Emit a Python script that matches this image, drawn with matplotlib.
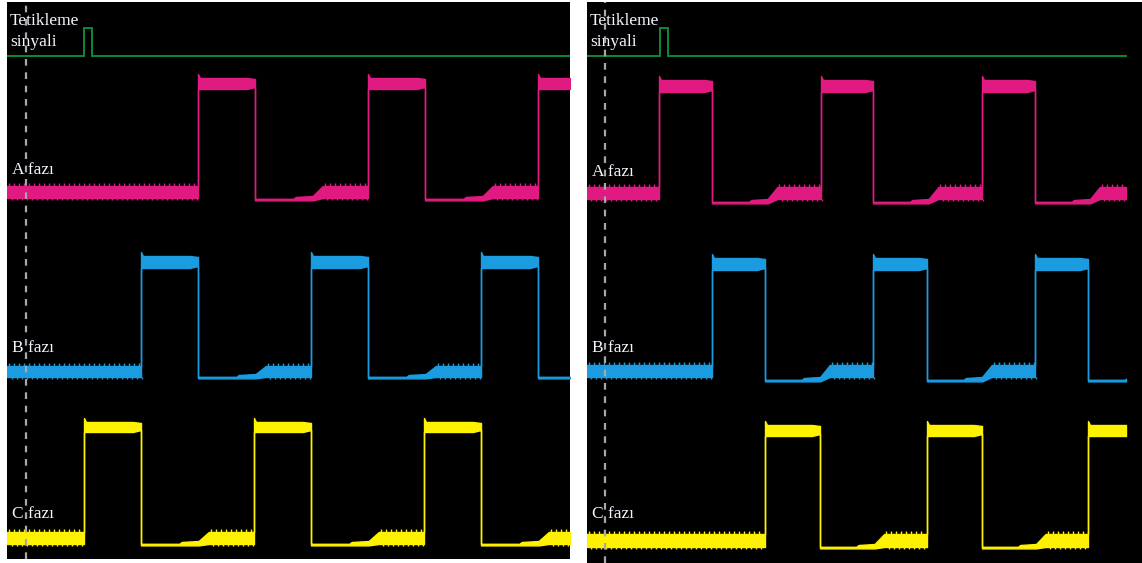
import matplotlib
matplotlib.use("Agg")
import matplotlib.pyplot as plt
import numpy as np

FIG_W, FIG_H = 1142, 563

phase_labels = ["A fazı", "B fazı", "C fazı"]
phase_colors = ["#E01A80", "#1B9BE0", "#FFF200"]
trigger_color = "#0A8A3C"
trigger_label = ["Tetikleme", "sinyali"]
cursor_color = "#A8A8A8"
text_color = "#F2F4FF"

# ---- capture 1 (left screen), screen units ----
cap1_box = (7, 2, 563, 557)            # left, top, width, height (figure px)
cap1_end = 563
cap1_cursor = 19
cap1_trigger = [77, 85]                # pulse start / end
cap1_rise = [[191, 361, 531], [134, 304, 474], [77, 247, 417]]
cap1_fall = [[248, 418], [191, 361, 531], [134, 304, 474]]
cap1_high = [(76, 87), (254, 266), (420, 430)]
cap1_band = [(184, 196), (364, 375), (530, 542)]
cap1_low = [198, 376, 543]
cap1_label_y = [172, 350, 516]

# ---- capture 2 (right screen), screen units ----
cap2_box = (587, 2, 555, 561)
cap2_end = 539
cap2_cursor = 18
cap2_trigger = [73, 81]
cap2_rise = [[72, 234, 395], [125, 286, 448], [178, 340, 501]]
cap2_fall = [[125, 286, 448], [178, 340, 501], [233, 395]]
cap2_high = [(78, 90), (256, 268), (423, 434)]
cap2_band = [(185, 197), (363, 375), (532, 545)]
cap2_low = [201, 379, 546]
cap2_label_y = [174, 350, 516]

trigger_base, trigger_top = 54, 26


def envelope(rise, fall, high, band, low, end, low_dur):
    """Upper/lower envelope of a rippled square wave, plus ripple band spans."""
    ts, up, lo = [], [], []
    bands = []

    def add(t, u, l):
        ts.append(t); up.append(u); lo.append(l)

    add(0, band[0], band[1])
    bands.append((0, rise[0] if rise else end))
    for i, tr in enumerate(rise):
        add(tr, band[0], band[1])
        add(tr, high[0] - 4, high[1])
        add(tr + 2, high[0], high[1])
        if i >= len(fall):
            add(end + 50, high[0], high[1])
            break
        tf = fall[i]
        add(tf - 8, high[0], high[1])
        add(tf, high[0] + 1, high[1] - 2)
        add(tf, low - 1.2, low + 0.4)
        tn = rise[i + 1] if i + 1 < len(rise) else tf + low_dur
        d = tn - tf
        add(tf + 0.34 * d, low - 1.2, low + 0.4)
        add(tf + 0.36 * d, low - 3, low + 0.4)
        add(tf + 0.51 * d, low - 4, low + 0.4)
        add(tf + 0.60 * d, band[0], band[1])
        bands.append((tf + 0.60 * d, tn))
        if i + 1 >= len(rise):
            add(tn + 50, band[0], band[1])

    ts, up, lo = np.array(ts, float), np.array(up, float), np.array(lo, float)
    # cut the trace where the record stops
    keep = ts < end
    u_end = np.interp(end, ts, up)
    l_end = np.interp(end, ts, lo)
    ts = np.append(ts[keep], end)
    up = np.append(up[keep], u_end)
    lo = np.append(lo[keep], l_end)
    bands = [(a, min(b, end)) for a, b in bands if a < end]
    return ts, up, lo, bands


def draw_capture(box, end, cursor, trig, rises, falls, highs, bands, lows, label_y):
    x, y, w, h = box
    ax = fig.add_axes([x / FIG_W, 1 - (y + h) / FIG_H, w / FIG_W, h / FIG_H])
    ax.set_facecolor("black")
    ax.set_xlim(0, w)
    ax.set_ylim(h, 0)
    ax.set_xticks([]); ax.set_yticks([])
    for s in ax.spines.values():
        s.set_visible(False)

    # trigger pulse
    tx = [0, trig[0], trig[0], trig[1], trig[1], end]
    ty = [trigger_base, trigger_base, trigger_top, trigger_top, trigger_base, trigger_base]
    ax.plot(tx, ty, color=trigger_color, lw=1.4, solid_joinstyle="miter")

    low_dur = np.median([r[i + 1] - f[i] for r, f in zip(rises, falls)
                         for i in range(min(len(f), len(r) - 1))])
    for k in range(3):
        t, u, l, spans = envelope(rises[k], falls[k], highs[k], bands[k], lows[k], end, low_dur)
        c = phase_colors[k]
        ax.fill_between(t, u, l, color=c, edgecolor=c, lw=1.0)
        for a, b in spans:
            tt = np.arange(a + 2, b - 1, 5.0)
            ax.plot(tt, np.full_like(tt, bands[k][0] - 1), ls="none", marker="|",
                    ms=3, mew=1.0, color=c)
            ax.plot(tt + 2.5, np.full_like(tt, bands[k][1] + 1), ls="none", marker="|",
                    ms=2, mew=1.0, color=c)
        ax.text(5, label_y[k], phase_labels[k], color=text_color, fontsize=12.5,
                family="Liberation Serif", va="baseline", ha="left", zorder=5)

    ax.text(3, 23, trigger_label[0], color=text_color, fontsize=12.5,
            family="Liberation Serif", va="baseline", ha="left", zorder=5)
    ax.text(3, 44, trigger_label[1], color=text_color, fontsize=12.5,
            family="Liberation Serif", va="baseline", ha="left", zorder=5)

    ax.axvline(cursor, color=cursor_color, lw=1.6, ls=(0, (3, 3)), zorder=6)
    return ax


fig = plt.figure(figsize=(FIG_W / 100, FIG_H / 100), dpi=100, facecolor="white")
draw_capture(cap1_box, cap1_end, cap1_cursor, cap1_trigger, cap1_rise, cap1_fall,
             cap1_high, cap1_band, cap1_low, cap1_label_y)
draw_capture(cap2_box, cap2_end, cap2_cursor, cap2_trigger, cap2_rise, cap2_fall,
             cap2_high, cap2_band, cap2_low, cap2_label_y)
fig.savefig("out.png", dpi=100, facecolor="white")
